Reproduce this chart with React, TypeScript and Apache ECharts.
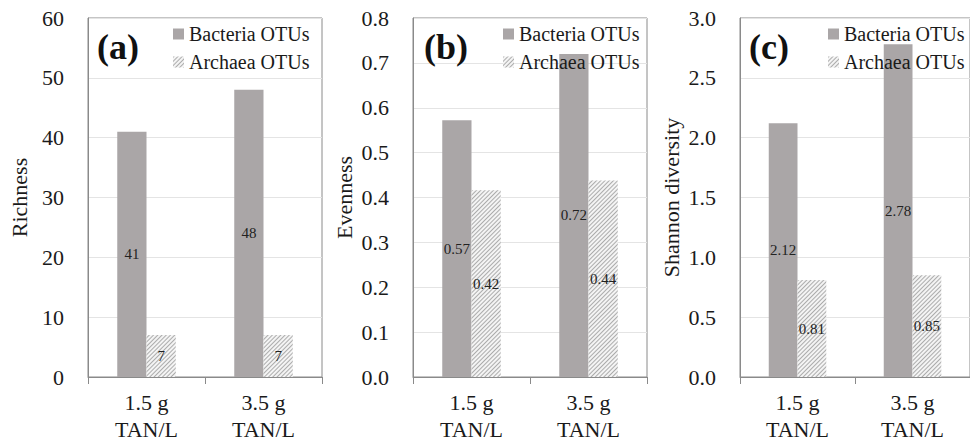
import React, { useEffect, useRef } from "react";
import * as echarts from "echarts";

const categories = ["1.5 g\nTAN/L", "3.5 g\nTAN/L"];
const richnessBacteria = [41, 48];
const richnessArchaea = [7, 7];
const evennessBacteria = [0.572, 0.72];
const evennessArchaea = [0.416, 0.438];
const shannonBacteria = [2.12, 2.78];
const shannonArchaea = [0.81, 0.85];

const panelLabels = ["(a)", "(b)", "(c)"];
const yNames = ["Richness", "Evenness", "Shannon diversity"];
const yMax = [60, 0.8, 3];
const yInterval = [10, 0.1, 0.5];
const labelDigits = [0, 2, 2];

const FONT = "Liberation Serif";
const BACT_COLOR = "#aaa6a7";
const ARCH_BG = "#f4f4f4";
const ARCH_LINE = "#acacac";

export default function App() {
  const ref = useRef<HTMLDivElement>(null);
  useEffect(() => {
    if (!ref.current) return;
    const chart = echarts.init(ref.current, null, { renderer: "svg" });
    const lefts = [88, 413, 740];
    const legendLefts = [173, 503, 828];
    const bacteria = [richnessBacteria, evennessBacteria, shannonBacteria];
    const archaea = [richnessArchaea, evennessArchaea, shannonArchaea];
    const decal = {
      symbol: "rect",
      symbolSize: 1,
      color: ARCH_LINE,
      dashArrayX: [1, 0],
      dashArrayY: [1, 1.5],
      rotation: -Math.PI / 4,
    };
    const grids = lefts.map((l) => ({
      left: l,
      top: 18,
      width: 234,
      height: 359,
      show: true,
      borderColor: "#8a8a8a",
      borderWidth: 1,
    }));
    const xAxes = lefts.map((_, i) => ({
      type: "category",
      gridIndex: i,
      data: categories,
      boundaryGap: true,
      axisLine: { lineStyle: { color: "#8a8a8a", width: 1 } },
      axisTick: { show: true, length: 7, lineStyle: { color: "#8a8a8a" } },
      axisLabel: {
        interval: 0,
        margin: 12,
        fontSize: 22,
        lineHeight: 27,
        fontFamily: FONT,
        color: "#1a1a1a",
      },
    }));
    const yAxes = lefts.map((_, i) => ({
      type: "value",
      gridIndex: i,
      min: 0,
      max: yMax[i],
      interval: yInterval[i],
      name: yNames[i],
      nameLocation: "middle",
      nameGap: 58,
      nameTextStyle: { fontSize: 22, fontFamily: FONT, color: "#1a1a1a" },
      axisLine: { show: true, lineStyle: { color: "#8a8a8a", width: 1 } },
      axisTick: { show: false },
      splitLine: { lineStyle: { color: "#e4e4e4", width: 1 } },
      axisLabel: {
        margin: 24,
        fontSize: 22,
        fontFamily: FONT,
        color: "#1a1a1a",
        formatter: (v: number) => (i === 0 ? String(v) : v.toFixed(1)),
      },
    }));
    const labelStyle = (i: number) => ({
      show: true,
      position: "inside",
      fontSize: 15,
      fontFamily: FONT,
      color: "#222",
      formatter: (p: any) => Number(p.value).toFixed(labelDigits[i]),
    });
    const series: any[] = [];
    lefts.forEach((_, i) => {
      series.push({
        type: "bar",
        name: "Bacteria OTUs",
        xAxisIndex: i,
        yAxisIndex: i,
        data: bacteria[i],
        barWidth: "25%",
        barGap: "0%",
        itemStyle: { color: BACT_COLOR },
        label: labelStyle(i),
      });
      series.push({
        type: "bar",
        name: "Archaea OTUs",
        xAxisIndex: i,
        yAxisIndex: i,
        data: archaea[i],
        barWidth: "25%",
        barGap: "0%",
        itemStyle: { color: ARCH_BG, decal },
        label: labelStyle(i),
      });
    });
    const legends = legendLefts.map((l) => ({
      left: l,
      top: 24,
      padding: 0,
      orient: "vertical",
      icon: "rect",
      itemWidth: 11,
      itemHeight: 11,
      itemGap: 8,
      selectedMode: false,
      textStyle: { fontSize: 20, fontFamily: FONT, color: "#1a1a1a" },
      data: ["Bacteria OTUs", "Archaea OTUs"],
    }));
    const graphics = panelLabels.map((t, i) => ({
      type: "text",
      x: [97, 424, 749][i],
      y: 47,
      z: 10,
      style: {
        text: t,
        font: `bold 36px ${FONT}`,
        fill: "#111",
        verticalAlign: "middle",
      },
    }));
    chart.setOption({
      animation: false,
      backgroundColor: "#ffffff",
      grid: grids,
      xAxis: xAxes,
      yAxis: yAxes,
      legend: legends,
      series,
      graphic: graphics,
    } as any);
    return () => chart.dispose();
  }, []);
  return (
    <div
      ref={ref}
      style={{ position: "fixed", left: 0, top: 0, width: 970, height: 443 }}
    />
  );
}
